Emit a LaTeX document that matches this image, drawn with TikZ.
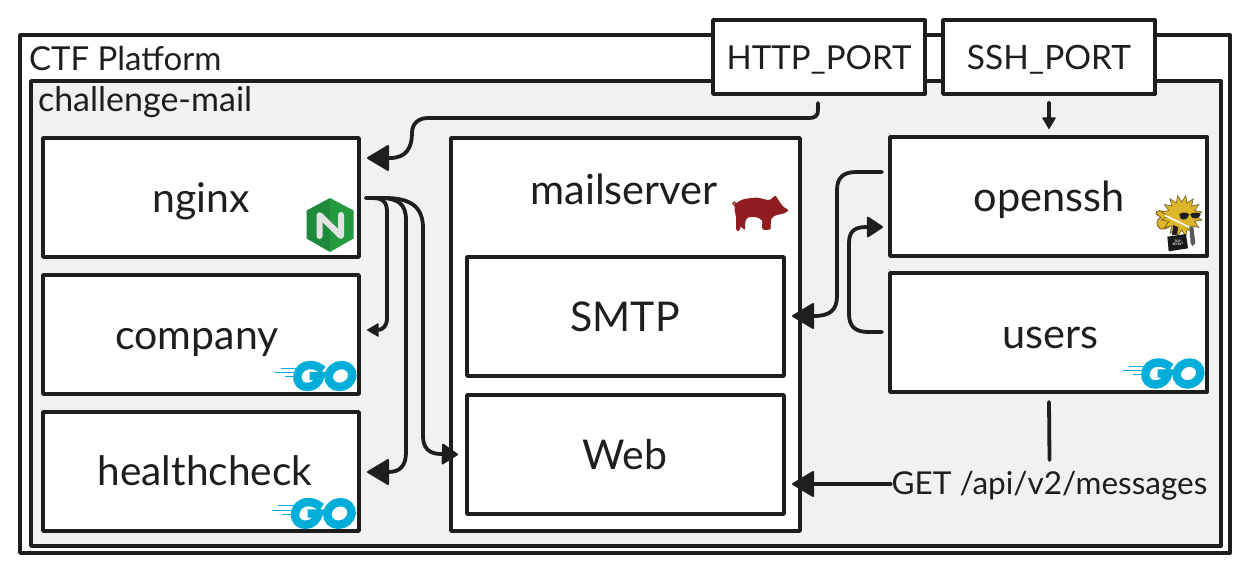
\documentclass[tikz,border=0pt]{standalone}
\usepackage{fontspec}
\setmainfont{Lato}
\usetikzlibrary{arrows.meta,calc}
\definecolor{ink}{HTML}{1E1E1E}
\definecolor{panel}{HTML}{F1F1F1}
\definecolor{gocyan}{HTML}{00AED9}
\definecolor{pigred}{HTML}{8F1D21}
\definecolor{nginxdark}{HTML}{1F8A3B}
\definecolor{nginxlight}{HTML}{249A3F}
\definecolor{fishgold}{HTML}{DDB52B}
\definecolor{fishdark}{HTML}{6B5A1C}
\tikzset{
  x=1pt,y=-1pt,
  box/.style={draw=ink,line width=3.8pt,fill=white,inner sep=0pt,outer sep=0pt,rectangle,line join=round},
  txt/.style={inner sep=0pt,outer sep=0pt,text=ink,font=\fontsize{#1}{#1}\selectfont},
  wire/.style={draw=ink,line width=3.8pt,line cap=round,line join=round},
  headL/.style={-{Triangle[length=23pt,width=27pt,round,line width=2pt]}},
  headM/.style={-{Triangle[length=17pt,width=22pt,round,line width=2pt]}},
  headS/.style={-{Triangle[length=12pt,width=14pt,round,line width=1pt]}},
}
\newcommand{\gologo}[3]{%
  \begin{scope}[shift={(#1,#2)},scale=#3]
    \fill[gocyan] (5.7,7.2) rectangle (22,8.2);
    \fill[gocyan] (0,11.2) rectangle (21,12.2);
    \fill[gocyan] (10,15.2) rectangle (20,16.2);
    \begin{scope}[xslant=.1]
    \draw[gocyan,line width=8.4pt,line cap=butt] (49,9) .. controls (44,5.5) and (40,4) .. (36,4)
      .. controls (28,4) and (24,9) .. (24,15) .. controls (24,22) and (29,26) .. (35,26)
      .. controls (42,26) and (46,21) .. (47,15) -- (36,15);
    \draw[gocyan,line width=8.4pt] (67,15) ellipse [x radius=11.8, y radius=11];
    \end{scope}
  \end{scope}}
\begin{document}
\begin{tikzpicture}
\useasboundingbox (0,0) rectangle (1249,573);
\fill[white] (0,0) rectangle (1249,573);

% frames
\node[box,minimum width=1210pt,minimum height=518pt] (platform) at (625,294) {};
\node[box,fill=panel,minimum width=1190pt,minimum height=465pt] (mail) at (626,313.5) {};
\node[txt=33,anchor=west] (platformlabel) at (29,58) {CTF Platform};
\node[txt=34,anchor=west] (maillabel) at (38,102) {challenge-mail};

% ports
\node[box,minimum width=212pt,minimum height=74pt] (http) at (819,57) {};
\node[txt=33] (httplabel) at (819,60) {HTTP\_PORT};
\node[box,minimum width=212pt,minimum height=74pt] (ssh) at (1049,57) {};
\node[txt=33.5] (sshlabel) at (1049,60) {SSH\_PORT};

% left column
\node[box,minimum width=316pt,minimum height=119pt] (nginx) at (201,197.5) {};
\node[txt=41] (nginxlabel) at (201,201) {nginx};
\node[box,minimum width=316pt,minimum height=119pt] (company) at (201,334.5) {};
\node[txt=41] (companylabel) at (197,342) {company};
\node[box,minimum width=316pt,minimum height=119pt] (health) at (201,471.5) {};
\node[txt=40.6] (healthlabel) at (205,471) {healthcheck};

% mailserver
\node[box,minimum width=349pt,minimum height=393pt] (mailserver) at (625.5,334.5) {};
\node[txt=41.5] (msl) at (624,189) {mailserver};
\node[box,minimum width=317pt,minimum height=119pt] (smtp) at (625.5,316.5) {};
\node[txt=41] (smtplabel) at (625,317) {SMTP};
\node[box,minimum width=317pt,minimum height=119pt] (web) at (625.5,454.5) {};
\node[txt=41] (weblabel) at (625,455) {Web};

% right column
\node[box,minimum width=317pt,minimum height=119pt] (openssh) at (1048.5,196.5) {};
\node[txt=41.5] (opensshlabel) at (1049,200) {openssh};
\node[box,minimum width=317pt,minimum height=119pt] (users) at (1048.5,332.5) {};
\node[txt=41.5] (userslabel) at (1050,338) {users};
\node[txt=31.5,minimum height=36pt] (get) at (1049.5,486) {GET /api/v2/messages};

% connectors
\draw[wire,headL] ($(http.south)+(-1,9)$) -- (818,110) .. controls (818,116) and (815,118) .. (809,118)
  -- (428,118) .. controls (418,118) and (412,124) .. (412,133)
  .. controls (412,148) and (406,158) .. (390,158) -- ($(nginx.north east)+(8,20)$);
\draw[wire,headS] ($(nginx.east)+(7,.5)$) -- (372,198) .. controls (383,198) and (387,202) .. (387,212)
  -- (387,318) .. controls (387,326) and (383,330) .. (377,330) -- ($(company.east)+(8,-4.5)$);
\draw[wire,headL] ($(nginx.east)+(7,.5)$) -- (380,198) .. controls (399,198) and (406,205) .. (406,220)
  -- (406,452) .. controls (406,466) and (400,472) .. (388,472) -- ($(health.east)+(8,.5)$);
\draw[wire,headM] ($(nginx.east)+(7,.5)$) -- (385,198) .. controls (412,198) and (423,208) .. (423,228)
  -- (423,436) .. controls (423,448) and (429,454) .. (441,454) -- ($(web.west)+(-9,0)$);
\draw[wire,headL] ($(openssh.west)+(-8,-24.5)$) -- (856,172) .. controls (843,172) and (837,178) .. (837,190)
  -- (837,296) .. controls (837,310) and (830,316) .. (814,316) -- ($(smtp.east)+(8,-.5)$);
\draw[wire,headM] ($(users.west)+(-8,-.5)$) -- (868,332) .. controls (855,332) and (849,326) .. (849,314)
  -- (849,243) .. controls (849,232) and (854,227) .. (866,227) -- ($(openssh.west)+(-7,30.5)$);
\draw[wire,headS] ($(ssh.south)+(0,9)$) -- ($(openssh.north)+(.5,-8)$);
\draw[wire] ($(users.south)+(.5,10)$) -- ($(get.north)+(0,-8)$);
\draw[wire,headL] ($(get.west)+(-1,-2)$) -- ($(web.east)+(8,29.5)$);

% nginx icon
\fill[nginxdark] (330,198) -- (306.5,210.5) -- (306.5,238.5) -- (330,252) -- cycle;
\fill[nginxlight] (330,198) -- (353.5,210.5) -- (353.5,238.5) -- (330,252) -- cycle;
\draw[line width=6pt,draw=black!11,line cap=round,line join=round] (319.5,236) -- (319.5,215) -- (341,236) -- (341,215);

% go logos
\gologo{275}{361}{1}
\gologo{272}{498}{1.03}
\gologo{1123}{358.5}{1}

% pig
\begin{scope}[shift={(700,130)},scale=.3333]
  \fill[pigred] plot[smooth cycle,tension=.45] coordinates {
    (106,222) (130,208) (170,203) (205,210) (216,205) (226,197) (238,214) (250,230) (265,241)
    (252,250) (228,256) (215,265) (212,285) (211,298) (188,298) (186,272) (170,262) (145,262)
    (136,275) (135,299) (122,290) (118,302) (109,300) (108,262) (104,240)};
  \draw[pigred,line width=1pt] (103,221) circle[radius=5];
\end{scope}

% puffer fish
\begin{scope}[shift={(1110,180)},scale=.3333]
  \fill[fishgold,draw=fishdark,line width=.8pt] (170,100) .. controls (155,88) and (136,90) .. (138,102) .. controls (142,108) and (150,106) .. (152,112)
    .. controls (140,118) and (135,135) .. (150,146) .. controls (162,150) and (176,146) .. (185,130) -- cycle;
  \begin{scope}[shift={(215,108)}]
    \fill[fishgold,draw=fishdark,line width=.6pt] plot[samples at={0,...,31},variable=\k] ({\k*11.25}:{mod(\k,2)*20+42}) -- cycle;
  \end{scope}
  \fill[ink] (190,135) -- (205,142) -- (200,165) -- (186,165) -- cycle;
  \draw[white,line width=1.6pt] (165,106) -- (240,143);
  \fill[ink] (208,102) .. controls (215,96) and (235,96) .. (237,104) .. controls (235,118) and (220,122) .. (212,116) -- cycle;
  \fill[ink] (240,102) .. controls (250,96) and (272,96) .. (272,104) .. controls (268,116) and (252,118) .. (245,112) -- cycle;
  \fill[black!65] (238,140) -- (250,140) -- (256,190) -- (248,198) -- (242,190) -- cycle;
  \fill[black!90] (172,170) -- (228,162) -- (234,205) -- (176,214) -- cycle;
  \node[inner sep=0pt,text=white,rotate=6,align=center,font=\fontsize{3}{3.2}\selectfont\bfseries] (secret) at (203,188) {TOP\\SECRET};
\end{scope}
\end{tikzpicture}
\end{document}
